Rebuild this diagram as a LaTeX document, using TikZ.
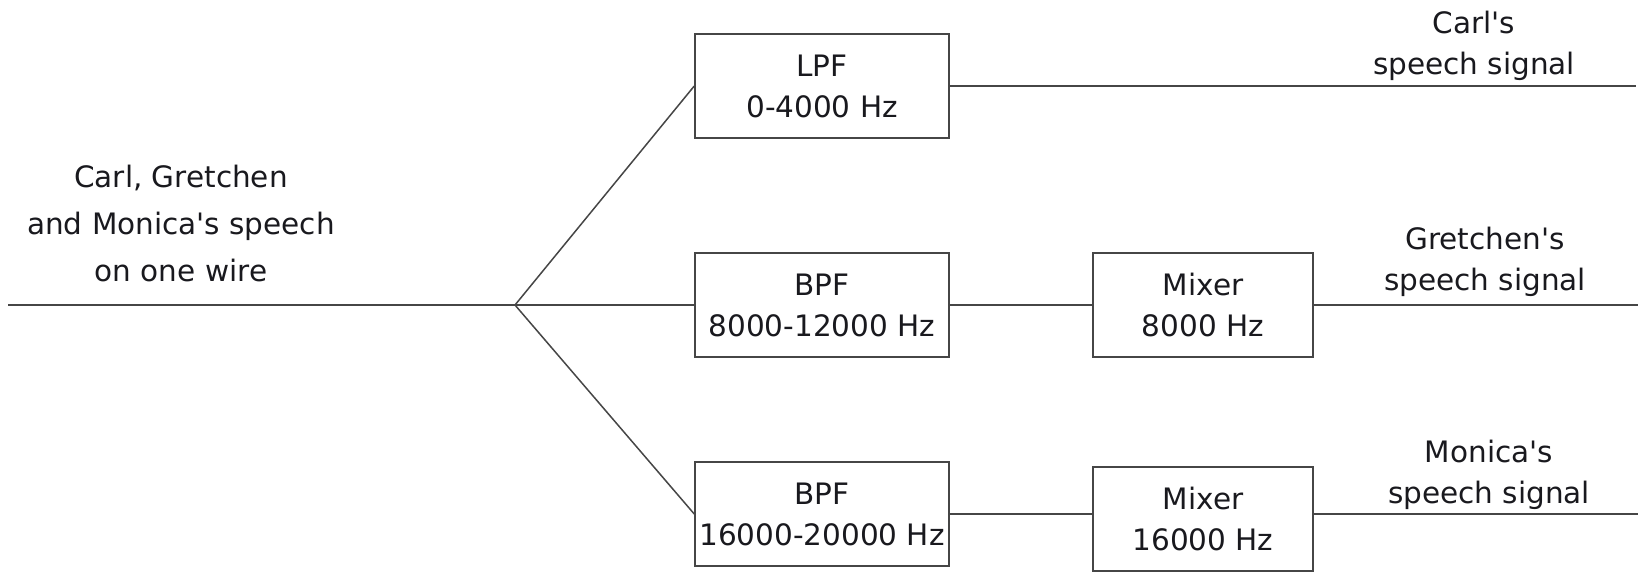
\documentclass[tikz,border=0pt]{standalone}
\usepackage{fontspec}
\setmainfont{DejaVu Sans}
\usepackage{tikz}
\usetikzlibrary{positioning,calc}
\definecolor{sgwire}{RGB}{70,70,70}
\definecolor{sgtext}{RGB}{25,25,30}

\begin{document}
\begin{tikzpicture}[x=1pt,y=-1pt,
  font=\fontsize{29.5}{41}\selectfont,
  filterbox/.style={draw=sgwire, line width=1.5pt, rectangle, align=center, text=sgtext, minimum width=254, minimum height=104, inner sep=0pt},
  mixbox/.style={filterbox, minimum width=220},
  wire/.style={draw=sgwire, line width=1.5pt},
  lbl/.style={align=center, text=sgtext}]
  \useasboundingbox (0,0) rectangle (1645,574);

  % Speech on the shared wire
  \node[lbl, font=\fontsize{29.5}{47}\selectfont] (wiretext) at (181,223) {Carl, Gretchen\\and Monica\textquotesingle s speech\\on one wire};
  \coordinate (wirestart) at (8,305);
  \coordinate (split) at (515,305);

  % Filters
  \node[filterbox] (lpf) at (822,86) {LPF\\0-4000 Hz};
  \node[filterbox] (bpfa) at (822,305) {BPF\\8000-12000 Hz};
  \node[filterbox] (bpfb) at (822,514) {BPF\\16000-20000 Hz};

  % Mixers
  \node[mixbox] (mixa) at (1203,305) {Mixer\\8000 Hz};
  \node[mixbox] (mixb) at (1203,519) {Mixer\\16000 Hz};

  % Outputs
  \coordinate (carlout) at (1636,86);
  \coordinate (gretout) at (1638,305);
  \coordinate (monout) at (1638,514);
  \node[lbl] (carllbl) at (1474,46) {Carl\textquotesingle s\\speech signal};
  \node[lbl] (gretlbl) at (1485,262) {Gretchen\textquotesingle s\\speech signal};
  \node[lbl] (monlbl) at (1489,475) {Monica\textquotesingle s\\speech signal};

  % Wires
  \draw[wire] (wirestart) -- (split);
  \draw[wire] (split) -- (lpf.west);
  \draw[wire] (split) -- (bpfa.west);
  \draw[wire] (split) -- (bpfb.west);
  \draw[wire] (lpf.east) -- (carlout);
  \draw[wire] (bpfa.east) -- (mixa.west);
  \draw[wire] (mixa.east) -- (gretout);
  \draw[wire] (bpfb.east) -- (bpfb.east -| mixb.west);
  \draw[wire] (bpfb.east -| mixb.east) -- (monout);
\end{tikzpicture}
\end{document}
